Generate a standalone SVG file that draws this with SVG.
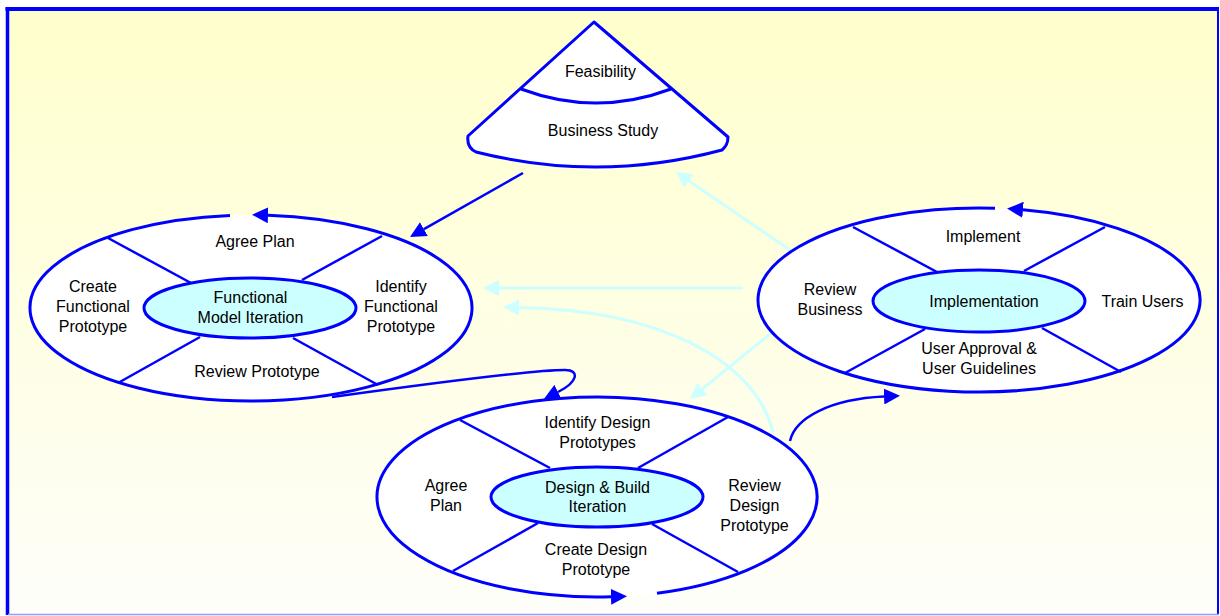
<svg xmlns="http://www.w3.org/2000/svg" width="1220" height="616" viewBox="0 0 1220 616">
<defs>
<linearGradient id="bg" x1="0" y1="0" x2="0" y2="1">
<stop offset="0" stop-color="#FFFFCC"/>
<stop offset="1" stop-color="#FEFEFA"/>
</linearGradient>
<marker id="ab" viewBox="0 0 16 16" refX="0" refY="8" markerWidth="16" markerHeight="16" markerUnits="userSpaceOnUse" orient="auto">
<path d="M0,0 L16,8 L0,16 Z" fill="#0000FF"/>
</marker>
<marker id="ac" viewBox="0 0 16 16" refX="0" refY="8" markerWidth="16" markerHeight="16" markerUnits="userSpaceOnUse" orient="auto">
<path d="M0,0 L16,8 L0,16 Z" fill="#CCFFFF"/>
</marker>
</defs>
<style>
text{font-family:"Liberation Sans",Arial,sans-serif;font-size:16px;fill:#000;text-anchor:middle}
.outer{fill:#FFFFFF;stroke:none}
.ring{fill:none;stroke:#0000FF;stroke-width:3}
.inner{fill:#CCFFFF;stroke:#0000FF;stroke-width:3}
.spoke{stroke:#0000FF;stroke-width:2.5;fill:none}
.blue{fill:none;stroke:#0000FF;stroke-width:2.5}
.cyan{fill:none;stroke:#CCFFFF;stroke-width:3}
</style>
<rect x="0" y="0" width="1220" height="616" fill="#FFFFFF"/>
<g id="frame">
<rect x="7" y="9" width="1211" height="605" fill="url(#bg)"/>
<line x1="5.5" y1="9" x2="1219" y2="9" stroke="#0000FF" stroke-width="4"/>
<line x1="7.5" y1="7" x2="7.5" y2="615" stroke="#0000FF" stroke-width="3.5"/>
<line x1="1218" y1="8" x2="1218" y2="615" stroke="#0000FF" stroke-width="2"/>
<line x1="8" y1="614.5" x2="1219" y2="614.5" stroke="#9999FF" stroke-width="1.5"/>
</g>
<g id="connectors">
<line class="cyan" x1="790" y1="250" x2="689" y2="181" marker-end="url(#ac)"/>
<line class="cyan" x1="743" y1="288" x2="499" y2="288" marker-end="url(#ac)"/>
<path class="cyan" d="M773,432 C755,360 660,310 519,307.5" marker-end="url(#ac)"/>
<line class="cyan" x1="770" y1="334" x2="702.4" y2="388.9" marker-end="url(#ac)"/>
</g>
<g id="node-business-study">
<path d="M594,22 L468,136 C467,143 470,149 476,152 Q599,183 722,150 C727,146 728,142 728,137 Z" fill="#FFFFFF" stroke="#0000FF" stroke-width="3" stroke-linejoin="round"/>
<path d="M521,89 Q596,117 671,89" class="ring"/>
<text x="600.5" y="76.7">Feasibility</text>
<text x="603" y="136">Business Study</text>
</g>
<g id="node-functional">
<ellipse class="outer" cx="251" cy="308" rx="221" ry="93"/>
<path class="ring" d="M230,215.4208 A221,93 0 1,0 268,215.2756" marker-end="url(#ab)"/>
<line class="spoke" x1="108" y1="238" x2="191" y2="283"/>
<line class="spoke" x1="382" y1="236" x2="302" y2="280"/>
<line class="spoke" x1="118" y1="383" x2="200" y2="337"/>
<line class="spoke" x1="378" y1="385" x2="293" y2="338"/>
<ellipse class="inner" cx="250" cy="308" rx="106" ry="30"/>
<text x="255" y="247.3">Agree Plan</text>
<text x="93" y="291.7">Create</text>
<text x="93" y="311.7">Functional</text>
<text x="93" y="331.7">Prototype</text>
<text x="401" y="291.7">Identify</text>
<text x="401" y="311.7">Functional</text>
<text x="401" y="331.7">Prototype</text>
<text x="250.5" y="303.3">Functional</text>
<text x="250.5" y="323">Model Iteration</text>
<text x="257" y="376.7">Review Prototype</text>
</g>
<g id="node-implementation">
<ellipse class="outer" cx="979" cy="300" rx="221" ry="92"/>
<path class="ring" d="M995,208.2414 A221,92 0 1,0 1023,209.8418" marker-end="url(#ab)"/>
<line class="spoke" x1="853" y1="227" x2="937" y2="272"/>
<line class="spoke" x1="1105" y1="227" x2="1024" y2="271"/>
<line class="spoke" x1="845" y1="373" x2="925" y2="329"/>
<line class="spoke" x1="1121" y1="372" x2="1042" y2="328"/>
<ellipse class="inner" cx="979" cy="301" rx="106" ry="31"/>
<text x="983" y="241.7">Implement</text>
<text x="830" y="295">Review</text>
<text x="830" y="314.5">Business</text>
<text x="984" y="307.3">Implementation</text>
<text x="1142.5" y="307.3">Train Users</text>
<text x="979" y="354">User Approval &amp;</text>
<text x="979" y="373.5">User Guidelines</text>
</g>
<g id="node-design">
<ellipse class="outer" cx="597" cy="497" rx="220" ry="100"/>
<path class="ring" d="M657,593.2092 A220,100 0 1,0 611,596.7973" marker-end="url(#ab)"/>
<line class="spoke" x1="460" y1="420" x2="550" y2="468"/>
<line class="spoke" x1="728" y1="417" x2="638" y2="468"/>
<line class="spoke" x1="453" y1="571" x2="538" y2="523"/>
<line class="spoke" x1="738" y1="572" x2="652" y2="524"/>
<ellipse class="inner" cx="597" cy="497" rx="106" ry="30"/>
<text x="597.5" y="428.3">Identify Design</text>
<text x="597.5" y="447.8">Prototypes</text>
<text x="446" y="491">Agree</text>
<text x="446" y="510.7">Plan</text>
<text x="597.5" y="492.7">Design &amp; Build</text>
<text x="597.5" y="512.3">Iteration</text>
<text x="754.5" y="490.7">Review</text>
<text x="754.5" y="510.7">Design</text>
<text x="754.5" y="530.7">Prototype</text>
<text x="596" y="555">Create Design</text>
<text x="596" y="574.5">Prototype</text>
</g>
<g id="connectors-blue">
<line class="blue" x1="523" y1="173" x2="423.9" y2="229.1" marker-end="url(#ab)"/>
<path class="blue" d="M332,397 C440,382 540,370 565,370 C580,370 578,382 558,392" marker-end="url(#ab)"/>
<path class="blue" d="M790,441 C795,418 830,399 884,396.5" marker-end="url(#ab)"/>
</g>
</svg>
